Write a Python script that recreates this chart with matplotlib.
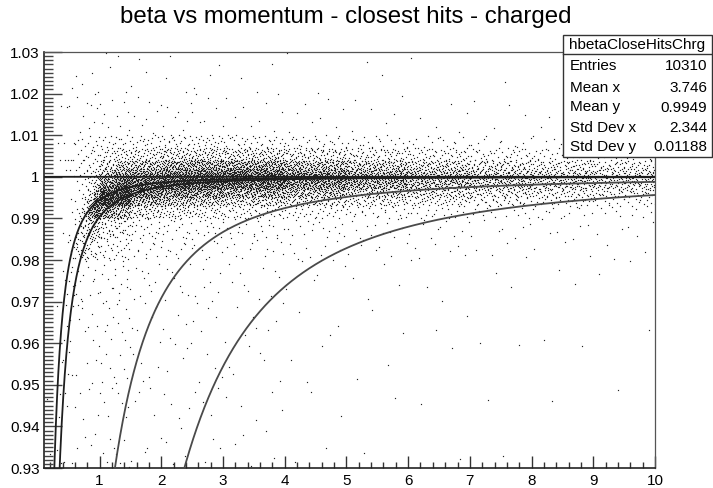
import numpy as np
import matplotlib
matplotlib.use("Agg")
import matplotlib.pyplot as plt
from matplotlib.ticker import MultipleLocator, FixedLocator, FixedFormatter
from matplotlib.patches import Rectangle
from matplotlib.lines import Line2D

# ---------------- data ----------------
title = "beta vs momentum - closest hits - charged"
stats_name = "hbetaCloseHitsChrg"
stats_labels = ["Entries", "Mean x", "Mean y", "Std Dev x", "Std Dev y"]
stats_values = ["10310", "3.746", "0.9949", "2.344", "0.01188"]

x_ticks = [1, 2, 3, 4, 5, 6, 7, 8, 9, 10]
x_ticklabels = ["1", "2", "3", "4", "5", "6", "7", "8", "9", "10"]
y_ticks = [0.93, 0.94, 0.95, 0.96, 0.97, 0.98, 0.99, 1.00, 1.01, 1.02, 1.03]
y_ticklabels = ["0.93", "0.94", "0.95", "0.96", "0.97", "0.98", "0.99", "1",
                "1.01", "1.02", "1.03"]

# particle mass hypotheses (GeV) for the beta(p) curves
particle_names = ["e", "mu", "pi", "K", "p"]
particle_masses = [0.000511, 0.10566, 0.13957, 0.49368, 0.93827]
curve_colors = ["#1e1e1e", "#1e1e1e", "#1e1e1e", "#4a4a4a", "#4a4a4a"]

# 2D histogram of entries (momentum bins x beta bins)
p_edges = [0.1, 0.3, 0.4, 0.5, 0.6, 0.7, 0.8, 0.9, 1.0, 1.25, 1.5, 2.0, 2.5,
           3.0, 4.0, 5.0, 6.0, 7.0, 8.0, 9.0, 10.0]
beta_edges = [0.93, 0.94, 0.95, 0.96, 0.97, 0.98, 0.985, 0.99, 0.993, 0.995,
              0.997, 0.998, 0.999, 1.000, 1.001, 1.002, 1.004, 1.007, 1.01,
              1.02, 1.03]
# each row: one momentum bin, counts from lowest beta bin to highest
counts = [
    [1, 1, 0, 0, 0, 0, 0, 0, 0, 0, 0, 0, 0, 0, 0, 0, 0, 0, 0, 0],
    [2, 2, 1, 1, 0, 0, 0, 0, 0, 0, 0, 0, 0, 0, 0, 0, 1, 1, 1, 0],
    [1, 2, 2, 3, 3, 1, 1, 0, 0, 0, 0, 0, 0, 0, 1, 1, 1, 1, 1, 0],
    [1, 1, 2, 3, 5, 5, 2, 1, 1, 0, 0, 0, 0, 1, 1, 1, 1, 1, 1, 1],
    [1, 1, 1, 2, 5, 9, 8, 3, 1, 1, 0, 0, 1, 1, 1, 1, 2, 2, 2, 1],
    [1, 1, 1, 2, 3, 14, 16, 10, 4, 2, 1, 1, 1, 1, 1, 2, 2, 2, 2, 1],
    [1, 1, 1, 2, 3, 9, 25, 32, 14, 6, 2, 2, 2, 2, 2, 2, 3, 3, 2, 1],
    [1, 1, 2, 2, 3, 8, 22, 46, 40, 18, 6, 4, 4, 3, 3, 3, 3, 3, 3, 1],
    [4, 4, 5, 6, 9, 12, 26, 75, 115, 110, 40, 28, 24, 20, 14, 18, 14, 8, 5, 2],
    [4, 4, 5, 6, 10, 12, 22, 55, 100, 140, 70, 50, 40, 30, 22, 28, 18, 8, 5, 2],
    [4, 4, 5, 6, 10, 12, 20, 48, 85, 150, 100, 90, 80, 68, 48, 68, 42, 18, 8, 3],
    [4, 4, 4, 5, 8, 10, 16, 38, 65, 125, 100, 105, 100, 88, 66, 90, 55, 20, 8, 3],
    [3, 4, 4, 5, 7, 8, 14, 30, 55, 110, 92, 100, 105, 95, 72, 95, 55, 20, 8, 3],
    [5, 5, 6, 8, 10, 12, 22, 45, 90, 180, 150, 170, 185, 175, 140, 190, 110, 30, 10, 3],
    [2, 2, 3, 3, 5, 10, 16, 33, 68, 135, 112, 128, 139, 131, 105, 142, 82, 24, 8, 2],
    [1, 1, 2, 2, 4, 7, 12, 25, 50, 100, 84, 95, 104, 98, 78, 106, 62, 18, 6, 2],
    [1, 1, 1, 2, 3, 6, 10, 20, 40, 80, 66, 75, 82, 77, 62, 84, 48, 14, 5, 1],
    [1, 1, 1, 1, 2, 4, 7, 15, 30, 59, 50, 56, 61, 58, 46, 62, 36, 10, 4, 1],
    [0, 1, 1, 1, 2, 3, 6, 12, 24, 48, 40, 46, 50, 47, 38, 51, 30, 8, 3, 1],
    [0, 1, 0, 1, 2, 3, 5, 10, 21, 41, 35, 39, 43, 40, 32, 44, 25, 7, 2, 1],
]


# ---------------- helpers ----------------
def halton(i, b):
    f, r = 1.0, 0.0
    while i > 0:
        f /= b
        r += f * (i % b)
        i //= b
    return r


W, H = 713, 488


def fx(x):
    return x / W


def fy(y):
    return 1 - y / H


plt.rcParams["font.family"] = ["Liberation Sans", "DejaVu Sans"]

fig = plt.figure(figsize=(W / 100, H / 100), dpi=100)
fig.patch.set_facecolor("white")
ax = fig.add_axes([fx(44), fy(468), fx(655) - fx(44), fy(52) - fy(468)])

# scatter points placed within their histogram cells (low-discrepancy layout)
xs, ys = [], []
k = 1
for i in range(len(p_edges) - 1):
    for j in range(len(beta_edges) - 1):
        n = counts[i][j]
        for _ in range(n):
            u = halton(k, 2)
            v = halton(k, 3)
            k += 1
            xs.append(p_edges[i] + u * (p_edges[i + 1] - p_edges[i]))
            ys.append(beta_edges[j] + v * (beta_edges[j + 1] - beta_edges[j]))
ax.plot(xs, ys, linestyle="none", marker="s", markersize=0.85,
        markeredgewidth=0, color="#222222", zorder=2)

# beta(p) curves for each mass hypothesis
p = np.linspace(0.1, 10, 2000)
for m, c in zip(particle_masses, curve_colors):
    beta = p / np.sqrt(p ** 2 + m ** 2)
    ax.plot(p, beta, color=c, lw=1.3, zorder=3)

ax.set_xlim(0.1, 10)
ax.set_ylim(0.93, 1.03)

ax.xaxis.set_major_locator(FixedLocator(x_ticks))
ax.xaxis.set_major_formatter(FixedFormatter(x_ticklabels))
ax.xaxis.set_minor_locator(MultipleLocator(0.2))
ax.yaxis.set_major_locator(FixedLocator(y_ticks))
ax.yaxis.set_major_formatter(FixedFormatter(y_ticklabels))
ax.yaxis.set_minor_locator(MultipleLocator(0.001))

ax.tick_params(axis="x", which="major", direction="in", length=8.6, width=1.0,
               color="#333333", labelsize=11, pad=4)
ax.tick_params(axis="x", which="minor", direction="in", length=4.3, width=1.0,
               color="#333333")
ax.tick_params(axis="y", which="major", direction="in", length=13, width=1.0,
               color="#444444", labelsize=11, pad=3)
ax.tick_params(axis="y", which="minor", direction="in", length=6.5, width=1.0,
               color="#444444")
for s in ["left", "bottom"]:
    ax.spines[s].set_color("#222222")
    ax.spines[s].set_linewidth(1.2)
for s in ["top", "right"]:
    ax.spines[s].set_color("#555555")
    ax.spines[s].set_linewidth(0.9)

# title
fig.text(fx(346), fy(17), title, ha="center", va="center", fontsize=17.3)

# stats box
bx0, by0, bx1, by1 = 563, 35, 712, 157
fig.patches.append(Rectangle((fx(bx0), fy(by1)), fx(bx1) - fx(bx0), fy(by0) - fy(by1),
                             transform=fig.transFigure, facecolor="white",
                             edgecolor="#333333", lw=1.0, zorder=5))
fig.lines.append(Line2D([fx(bx0), fx(bx1)], [fy(54), fy(54)],
                        transform=fig.transFigure, color="#333333", lw=1.0, zorder=6))
fig.text(fx((bx0 + bx1) / 2), fy(44.5), stats_name, ha="center", va="center",
         fontsize=11, zorder=7)
row_y = [66.5, 87.5, 107.5, 128, 147]
for lab, val, yy in zip(stats_labels, stats_values, row_y):
    fig.text(fx(570), fy(yy), lab, ha="left", va="center", fontsize=11, zorder=7)
    fig.text(fx(707), fy(yy), val, ha="right", va="center", fontsize=11, zorder=7)

fig.savefig("out.png", dpi=100, facecolor="white")
